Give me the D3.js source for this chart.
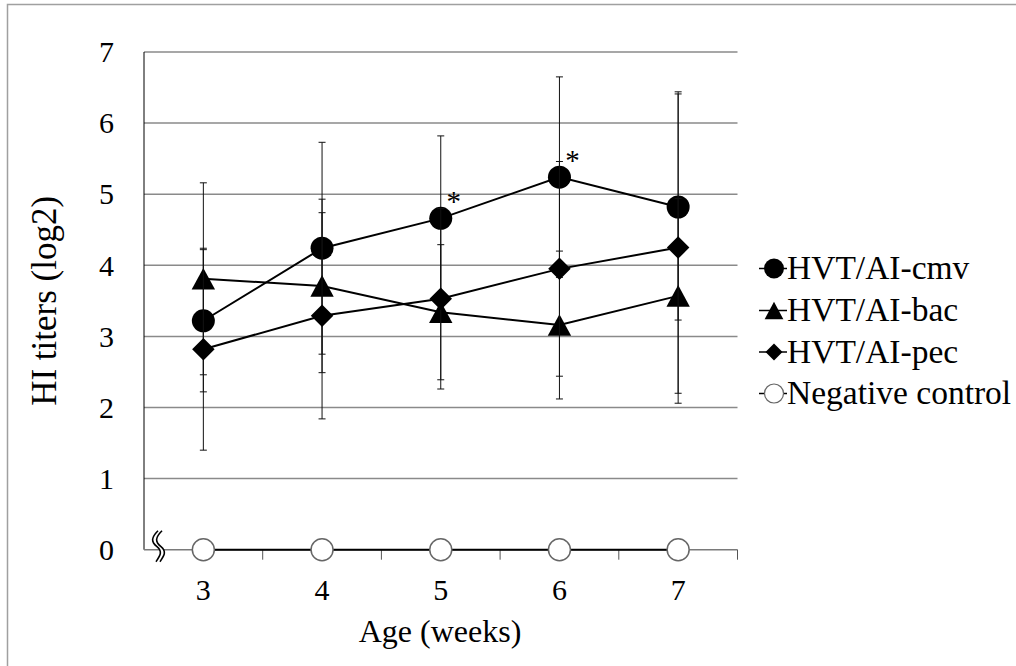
<!DOCTYPE html>
<html>
<head>
<meta charset="utf-8">
<script src="https://cdn.jsdelivr.net/npm/d3@7"></script>
<style>
  body { margin: 0; background: #fff; }
</style>
</head>
<body>
<div id="app"></div>
<script>
const width = 1016;
const height = 666;
const serif = "'Liberation Serif', 'Times New Roman', 'DejaVu Serif', serif";

// data
const weeks = [3, 4, 5, 6, 7];
const seriesNames = ["HVT/AI-cmv", "HVT/AI-bac", "HVT/AI-pec", "Negative control"];
const cmv = [3.22, 4.24, 4.66, 5.24, 4.82];
const cmvErr = [1.0, 1.49, 1.16, 1.41, 1.59];
const bac = [3.81, 3.71, 3.34, 3.16, 3.57];
const bacErr = [1.35, 1.22, 0.95, 1.04, 1.37];
const pec = [2.82, 3.29, 3.53, 3.95, 4.25];
const pecErr = [1.42, 1.45, 1.27, 1.51, 2.19];
const negative = [0, 0, 0, 0, 0];
const yTicks = [0, 1, 2, 3, 4, 5, 6, 7];
const significant = [5, 6]; // weeks with * on cmv

const svg = d3.select("#app")
  .append("svg")
  .attr("width", width)
  .attr("height", height)
  .attr("font-family", serif);

// outer frame
svg.append("rect")
  .attr("x", 7.5).attr("y", 4.5)
  .attr("width", 1030).attr("height", 700)
  .attr("fill", "none")
  .attr("stroke", "#a0a0a0")
  .attr("stroke-width", 1.5);

const x = d3.scaleBand().domain(weeks).range([144, 737.5]).padding(0);
const cx = d => x(d) + x.bandwidth() / 2;
const y = d3.scaleLinear().domain([0, 7]).range([549.7, 52]);

// gridlines
svg.append("g")
  .selectAll("line")
  .data(yTicks.filter(d => d > 0))
  .join("line")
  .attr("x1", 144).attr("x2", 737.5)
  .attr("y1", d => y(d)).attr("y2", d => y(d))
  .attr("stroke", "#8a8a8a")
  .attr("stroke-width", 1.5);

// y axis line
svg.append("line")
  .attr("x1", 144).attr("x2", 144)
  .attr("y1", y(7)).attr("y2", y(0))
  .attr("stroke", "#000").attr("stroke-width", 1);

// x axis line + ticks between categories
svg.append("line")
  .attr("x1", 144).attr("x2", 737.5)
  .attr("y1", y(0)).attr("y2", y(0))
  .attr("stroke", "#7a7a7a").attr("stroke-width", 1.5);
svg.append("g")
  .selectAll("line")
  .data(weeks.map(w => x(w) + x.bandwidth()))
  .join("line")
  .attr("x1", d => d).attr("x2", d => d)
  .attr("y1", y(0)).attr("y2", y(0) + 10)
  .attr("stroke", "#555").attr("stroke-width", 1);

// tick labels
svg.append("g")
  .selectAll("text")
  .data(yTicks)
  .join("text")
  .attr("x", 114)
  .attr("y", d => y(d))
  .attr("dy", "0.34em")
  .attr("text-anchor", "end")
  .attr("font-family", serif)
  .attr("font-size", 30)
  .text(d => d);

svg.append("g")
  .selectAll("text")
  .data(weeks)
  .join("text")
  .attr("x", d => cx(d))
  .attr("y", 600)
  .attr("text-anchor", "middle")
  .attr("font-family", serif)
  .attr("font-size", 30)
  .text(d => d);

// axis titles
svg.append("text")
  .attr("x", 440).attr("y", 642)
  .attr("text-anchor", "middle")
  .attr("font-family", serif)
  .attr("font-size", 32)
  .text("Age (weeks)");

svg.append("text")
  .attr("transform", `translate(56, ${(y(0) + y(7)) / 2}) rotate(-90)`)
  .attr("text-anchor", "middle")
  .attr("font-family", serif)
  .attr("font-size", 35)
  .text("HI titers (log2)");

// axis break mark
const bx = 157, by = y(0);
const wave = dx => `M${bx + dx + 1},${by - 19} C${bx + dx - 6},${by - 12} ${bx + dx - 6},${by - 8} ${bx + dx},${by - 3} S${bx + dx + 3},${by + 6} ${bx + dx - 1},${by + 12}`;
svg.append("path")
  .attr("d", `M${bx + 1},${by - 19} C${bx - 6},${by - 12} ${bx - 6},${by - 8} ${bx},${by - 3} S${bx + 3},${by + 6} ${bx - 1},${by + 12} L${bx + 3},${by + 12} C${bx + 7},${by + 6} ${bx + 9},${by} ${bx + 4},${by - 3} S${bx - 2},${by - 12} ${bx + 5},${by - 19} Z`)
  .attr("fill", "#fff");
svg.append("g")
  .selectAll("path")
  .data([0, 4])
  .join("path")
  .attr("d", d => wave(d))
  .attr("fill", "none")
  .attr("stroke", "#000")
  .attr("stroke-width", 1.6);

// marker shapes
const shapes = {
  circle: r => d3.symbol(d3.symbolCircle, Math.PI * r * r)(),
  triangle: s => `M0,${-s * 0.48}L${s * 0.52},${s * 0.48}L${-s * 0.52},${s * 0.48}Z`,
  diamond: s => `M0,${-s / 2}L${s / 2},0L0,${s / 2}L${-s / 2},0Z`
};

const series = [
  { name: seriesNames[0], values: cmv, err: cmvErr, shape: "circle", size: 11.5, lsize: 10, fill: "#000", stroke: "none" },
  { name: seriesNames[1], values: bac, err: bacErr, shape: "triangle", size: 22.5, lsize: 18, fill: "#000", stroke: "none" },
  { name: seriesNames[2], values: pec, err: pecErr, shape: "diamond", size: 22.5, lsize: 17, fill: "#000", stroke: "none" },
  { name: seriesNames[3], values: negative, err: null, shape: "circle", size: 11, lsize: 9.5, fill: "#fff", stroke: "#666" }
];

const line = d3.line().x((d, i) => cx(weeks[i])).y(d => y(d));

series.forEach(s => {
  const g = svg.append("g");
  if (s.err) {
    const eb = g.append("g").selectAll("g")
      .data(s.values.map((v, i) => ({ w: weeks[i], v, e: s.err[i] })))
      .join("g")
      .attr("stroke", "#111")
      .attr("stroke-width", 1);
    eb.append("line")
      .attr("x1", d => cx(d.w)).attr("x2", d => cx(d.w))
      .attr("y1", d => y(d.v + d.e)).attr("y2", d => y(d.v - d.e));
    [1, -1].forEach(sign => {
      eb.append("line")
        .attr("x1", d => cx(d.w) - 3.5).attr("x2", d => cx(d.w) + 3.5)
        .attr("y1", d => y(d.v + sign * d.e)).attr("y2", d => y(d.v + sign * d.e));
    });
  }
  g.append("path")
    .attr("d", line(s.values))
    .attr("fill", "none")
    .attr("stroke", "#000")
    .attr("stroke-width", 2);
  g.append("g").selectAll("path")
    .data(s.values)
    .join("path")
    .attr("transform", (d, i) => `translate(${cx(weeks[i])},${y(d)})`)
    .attr("d", shapes[s.shape](s.size))
    .attr("fill", s.fill)
    .attr("stroke", s.stroke)
    .attr("stroke-width", 1.5);
});

// significance marks
svg.append("g")
  .selectAll("text")
  .data(significant)
  .join("text")
  .attr("x", d => cx(d) + 13)
  .attr("y", d => y(cmv[weeks.indexOf(d)]) - 7)
  .attr("text-anchor", "middle")
  .attr("font-family", serif)
  .attr("font-size", 29)
  .text("*");

// legend
const legendY = [268.5, 310.5, 352, 393.5];
const lg = svg.append("g").selectAll("g")
  .data(series)
  .join("g")
  .attr("transform", (d, i) => `translate(0, ${legendY[i]})`);
lg.append("line")
  .attr("x1", 759).attr("x2", 787)
  .attr("stroke", "#000").attr("stroke-width", 1.5);
lg.append("path")
  .attr("transform", "translate(774,0)")
  .attr("d", d => shapes[d.shape](d.lsize))
  .attr("fill", d => d.fill)
  .attr("stroke", d => d.stroke)
  .attr("stroke-width", 1.2);
lg.append("text")
  .attr("x", 787)
  .attr("y", 10.5)
  .attr("font-family", serif)
  .attr("font-size", 33.5)
  .text(d => d.name);
</script>
</body>
</html>
